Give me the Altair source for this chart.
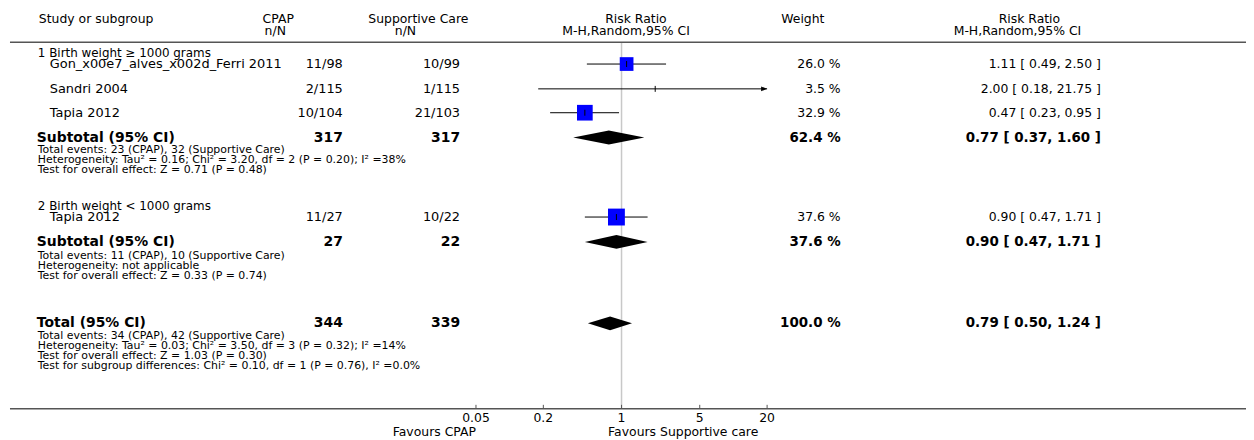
import altair as alt
import pandas as pd

FONT = "DejaVu Sans"

# ---------------- data ----------------
study_names = ["Gon_x00e7_alves_x002d_Ferri 2011", "Sandri 2004", "Tapia 2012", "Tapia 2012"]
cpap_nN = ["11/98", "2/115", "10/104", "11/27"]
supp_nN = ["10/99", "1/115", "21/103", "10/22"]
study_weight = [26.0, 3.5, 32.9, 37.6]
study_rr = [1.11, 2.00, 0.47, 0.90]
study_lo = [0.49, 0.18, 0.23, 0.47]
study_hi = [2.50, 21.75, 0.95, 1.71]

group_titles = ["1 Birth weight \u2265 1000 grams", "2 Birth weight < 1000 grams"]

summary_labels = ["Subtotal (95% CI)", "Subtotal (95% CI)", "Total (95% CI)"]
summary_cpap = [317, 27, 344]
summary_supp = [317, 22, 339]
summary_weight = [62.4, 37.6, 100.0]
summary_rr = [0.77, 0.90, 0.79]
summary_lo = [0.37, 0.47, 0.50]
summary_hi = [1.60, 1.71, 1.24]

footnotes = [
    ["Total events: 23 (CPAP), 32 (Supportive Care)",
     "Heterogeneity: Tau\u00b2 = 0.16; Chi\u00b2 = 3.20, df = 2 (P = 0.20); I\u00b2 =38%",
     "Test for overall effect: Z = 0.71 (P = 0.48)"],
    ["Total events: 11 (CPAP), 10 (Supportive Care)",
     "Heterogeneity: not applicable",
     "Test for overall effect: Z = 0.33 (P = 0.74)"],
    ["Total events: 34 (CPAP), 42 (Supportive Care)",
     "Heterogeneity: Tau\u00b2 = 0.03; Chi\u00b2 = 3.50, df = 3 (P = 0.32); I\u00b2 =14%",
     "Test for overall effect: Z = 1.03 (P = 0.30)",
     "Test for subgroup differences: Chi\u00b2 = 0.10, df = 1 (P = 0.76), I\u00b2 =0.0%"],
]

header_left = "Study or subgroup"
header_cpap = ["CPAP", "n/N"]
header_supp = ["Supportive Care", "n/N"]
header_plot = ["Risk Ratio", "M-H,Random,95% CI"]
header_weight = "Weight"
header_rr = ["Risk Ratio", "M-H,Random,95% CI"]

tick_values = [0.05, 0.2, 1, 5, 20]
tick_labels = ["0.05", "0.2", "1", "5", "20"]
favours_left = "Favours CPAP"
favours_right = "Favours Supportive care"

# ---------------- layout ----------------
W, H = 1246, 432
Y_HEAD = [10, 22]
Y_HEAD_RULE = 33
Y_GROUP = [44, 198]
Y_STUDY = [55, 80, 104, 209]
Y_SUMMARY = [129, 234, 316]
Y_FOOT = [[142, 152, 162], [248, 258, 268], [329, 339, 349, 359]]
Y_AXIS = 402
Y_TICKLAB = 411
Y_FAVOURS = 425

C_LEFT = 30
C_STUDY = 42
C_CPAP = 337
C_SUPP = 455
C_WEIGHT = 838
C_RR = 1100

xscale = alt.Scale(type="log", domain=[tick_values[0], tick_values[-1]],
                   range=[471, 764], nice=False)
yscale = alt.Scale(domain=[0, H], range=[0, H], nice=False, zero=False)
Y = alt.Y("y:Q", scale=yscale, axis=None)


def X(field):
    return alt.X(field, scale=xscale, axis=None)


# ---------------- text items ----------------
items = []


def add(t, x, y, align="left", size=13.0, bold=False):
    items.append(dict(t=t, x=float(x), y=float(y), align=align, size=float(size), bold=bool(bold)))


add(header_left, 31, Y_HEAD[0], size=12.5)
add(header_cpap[0], 272, Y_HEAD[0], "center", 12.5)
add(header_cpap[1], 269, Y_HEAD[1], "center", 12.5)
add(header_supp[0], 413, Y_HEAD[0], "center", 12.5)
add(header_supp[1], 400, Y_HEAD[1], "center", 12.5)
add(header_plot[0], 632, Y_HEAD[0], "center", 12.5)
add(header_plot[1], 622, Y_HEAD[1], "center", 12.5)
add(header_weight, 800, Y_HEAD[0], "center", 12.5)
add(header_rr[0], 1028, Y_HEAD[0], "center", 12.5)
add(header_rr[1], 1016, Y_HEAD[1], "center", 12.5)

for i, g in enumerate(group_titles):
    add(g, C_LEFT, Y_GROUP[i], size=12)

for i in range(len(study_names)):
    y = Y_STUDY[i]
    add(study_names[i], C_STUDY, y)
    add(cpap_nN[i], C_CPAP, y, "right")
    add(supp_nN[i], C_SUPP, y, "right")
    add(f"{study_weight[i]:.1f} %", C_WEIGHT, y, "right", 12.5)
    add(f"{study_rr[i]:.2f} [ {study_lo[i]:.2f}, {study_hi[i]:.2f} ]", C_RR, y, "right", 12.5)

for i in range(len(summary_labels)):
    y = Y_SUMMARY[i]
    add(summary_labels[i], C_LEFT - 1, y, size=14, bold=True)
    add(str(summary_cpap[i]), C_CPAP, y, "right", 14, True)
    add(str(summary_supp[i]), C_SUPP, y, "right", 14, True)
    add(f"{summary_weight[i]:.1f} %", C_WEIGHT, y, "right", 13.5, True)
    add(f"{summary_rr[i]:.2f} [ {summary_lo[i]:.2f}, {summary_hi[i]:.2f} ]", C_RR, y, "right", 13.5, True)
    for j, f in enumerate(footnotes[i]):
        add(f, C_LEFT, Y_FOOT[i][j], size=11)

add(favours_right, 604, Y_FAVOURS, size=12.5)

tdf = pd.DataFrame(items)
text_layers = []
for (x, align, size, bold), g in tdf.groupby(["x", "align", "size", "bold"]):
    text_layers.append(
        alt.Chart(g[["t", "y"]].reset_index(drop=True)).mark_text(
            align=align, baseline="middle", font=FONT, fontSize=float(size),
            fontWeight="bold" if bold else "normal", color="black"
        ).encode(x=alt.value(float(x)), y=Y, text="t:N")
    )

# ---------------- lines ----------------
rules_df = pd.DataFrame(dict(y=[Y_HEAD_RULE, Y_AXIS]))
hrules = alt.Chart(rules_df).mark_rule(color="#555555", strokeWidth=1.5).encode(
    x=alt.value(2), x2=alt.value(W), y=Y)

vdf = pd.DataFrame(dict(x=[1.0], y1=[Y_HEAD_RULE], y2=[Y_AXIS]))
vline = alt.Chart(vdf).mark_rule(color="#c8c8c8", strokeWidth=1.5).encode(
    x=X("x:Q"), y=alt.Y("y1:Q", scale=yscale, axis=None), y2="y2:Q")

tk = pd.DataFrame(dict(x=tick_values, lab=tick_labels,
                       y1=[Y_AXIS - 4] * len(tick_values), y2=[Y_AXIS] * len(tick_values),
                       y=[Y_TICKLAB] * len(tick_values)))
ticks = alt.Chart(tk).mark_rule(color="#555555", strokeWidth=1).encode(
    x=X("x:Q"), y=alt.Y("y1:Q", scale=yscale, axis=None), y2="y2:Q")
ticklabels = alt.Chart(tk).mark_text(font=FONT, fontSize=12.5, baseline="middle",
                                     align="center", color="black").encode(
    x=X("x:Q"), y=Y, text="lab:N")

fav = pd.DataFrame(dict(x=[tick_values[0]], y=[Y_FAVOURS], t=[favours_left]))
favl = alt.Chart(fav).mark_text(font=FONT, fontSize=12.5, baseline="middle",
                                align="right", color="black").encode(
    x=X("x:Q"), y=Y, text="t:N")

# ---------------- studies ----------------
xmax = tick_values[-1]
sdf = pd.DataFrame(dict(y=Y_STUDY, rr=study_rr, lo=study_lo,
                        hi=[min(h, xmax) for h in study_hi], w=study_weight))
ci = alt.Chart(sdf).mark_rule(color="black", strokeWidth=1).encode(
    x=X("lo:Q"), x2="hi:Q", y=Y)
box = alt.Chart(sdf).mark_square(color="#0000ff", opacity=1, filled=True).encode(
    x=X("rr:Q"), y=Y,
    size=alt.Size("w:Q", scale=alt.Scale(domain=[min(study_weight), max(study_weight)],
                                         range=[0, 289], zero=False), legend=None))
est_tick = alt.Chart(sdf).transform_calculate(
    y1="datum.y - 3", y2="datum.y + 3").mark_rule(color="black", strokeWidth=1).encode(
    x=X("rr:Q"), y=alt.Y("y1:Q", scale=yscale, axis=None), y2="y2:Q")

adf = pd.DataFrame(dict(x=[xmax for h in study_hi if h > xmax],
                        y=[Y_STUDY[i] for i, h in enumerate(study_hi) if h > xmax]))
arrow = alt.Chart(adf).mark_point(shape="M-2,-0.8L0,0L-2,0.8Z", filled=True, color="black",
                                  size=36, opacity=1).encode(x=X("x:Q"), y=Y)

# ---------------- diamonds ----------------
drows = []
for i in range(len(summary_rr)):
    c = Y_SUMMARY[i]
    drows += [dict(id=i, x=summary_lo[i], y1=c, y2=c),
              dict(id=i, x=summary_rr[i], y1=c - 7, y2=c + 7),
              dict(id=i, x=summary_hi[i], y1=c, y2=c)]
ddf = pd.DataFrame(drows)
diam = alt.Chart(ddf).mark_area(color="black", orient="vertical", opacity=1).encode(
    x=X("x:Q"), y=alt.Y("y1:Q", scale=yscale, axis=None, stack=None), y2="y2:Q",
    detail="id:N")

chart = alt.layer(
    vline, hrules, ticks, ticklabels, favl, ci, box, est_tick, arrow, diam, *text_layers
).properties(
    width=W, height=H, padding=0, autosize=alt.AutoSizeParams(type="none"),
    background="white"
).configure_view(stroke=None)

chart.save("out.html", embed_options={"renderer": "svg", "actions": False})
